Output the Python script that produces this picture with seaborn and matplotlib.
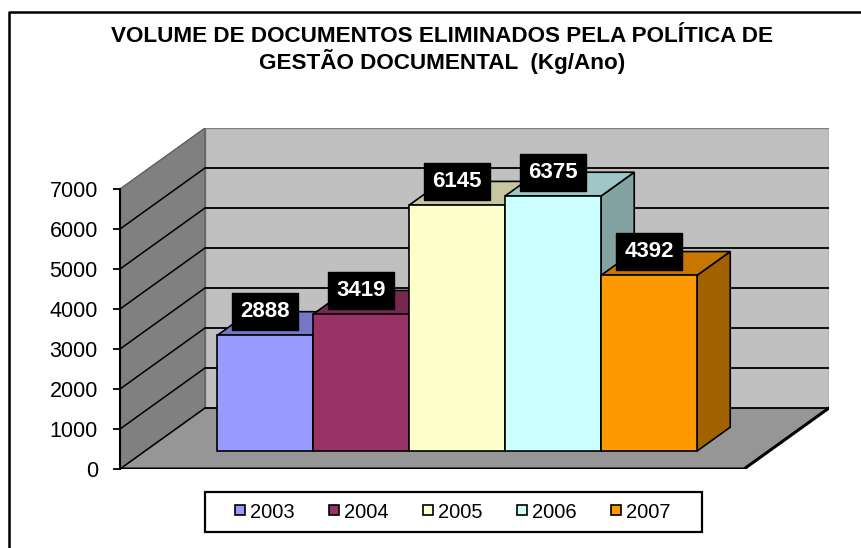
import numpy as np
import pandas as pd
import matplotlib
matplotlib.use("Agg")
import matplotlib.pyplot as plt
import matplotlib.transforms as mtransforms
from matplotlib.patches import Polygon, Rectangle
from matplotlib.lines import Line2D
import seaborn as sns

# Data
years = ["2003", "2004", "2005", "2006", "2007"]
volumes = [2888, 3419, 6145, 6375, 4392]
colors = ["#9999FF", "#993366", "#FFFFCC", "#CCFFFF", "#FF9900"]
y_ticks = [0, 1000, 2000, 3000, 4000, 5000, 6000, 7000]
title = "VOLUME DE DOCUMENTOS ELIMINADOS PELA POLÍTICA DE\nGESTÃO DOCUMENTAL  (Kg/Ano)"

sns.set_style("white")
plt.rcParams['font.family'] = ['Liberation Sans', 'DejaVu Sans']
plt.rcParams['text.color'] = 'black'
plt.rcParams['ytick.color'] = 'black'
plt.rcParams['xtick.color'] = 'black'

df = pd.DataFrame({"ano": years, "kg": volumes})

# fake 3D settings (in data units of the front plane)
DX = 85 / 96        # depth shift in x (category units) for the full floor
DY = 61 / 0.04      # depth shift in y (value units)
ZB = 0.295          # depth where the bar fronts sit
DZB = 0.39          # bar depth
X_L, X_R = -1.25, 5.25
Y_TOP = 7000


def shade(c, f):
    r, g, b = matplotlib.colors.to_rgb(c)
    return (r * f, g * f, b * f)


fig = plt.figure(figsize=(8.62, 5.48), dpi=100)
ax = fig.add_axes([120 / 862, 79 / 548, 709 / 862, 341 / 548])

sns.barplot(data=df, x="ano", y="kg", hue="ano", palette=colors, order=years,
            saturation=1, width=1.0, edgecolor="black", linewidth=1.2,
            legend=False, ax=ax)
bars = list(ax.patches)

# move bars back to their depth
shift = mtransforms.Affine2D().translate(ZB * DX, ZB * DY) + ax.transData
for i, p in enumerate(bars):
    p.set_transform(shift)
    p.set_zorder(3 + i * 0.1 + 0.05)

# walls and floor
floor = Polygon([(X_L, 0), (X_R, 0), (X_R + DX, DY), (X_L + DX, DY)],
                closed=True, facecolor="#969696", edgecolor="none", zorder=1)
back = Polygon([(X_L + DX, DY), (X_R + DX, DY), (X_R + DX, Y_TOP + DY), (X_L + DX, Y_TOP + DY)],
               closed=True, facecolor="#C0C0C0", edgecolor="#808080", lw=1, zorder=1)
side = Polygon([(X_L, 0), (X_L + DX, DY), (X_L + DX, Y_TOP + DY), (X_L, Y_TOP)],
               closed=True, facecolor="#808080", edgecolor="#606060", lw=1, zorder=1)
for poly in [floor, back, side]:
    ax.add_patch(poly)

for v in y_ticks[:-1]:
    ax.plot([X_L + DX, X_R + DX], [v + DY, v + DY], color="black", lw=1.3, zorder=1.5)
    ax.plot([X_L, X_L + DX], [v, v + DY], color="black", lw=1.1, zorder=1.5)

ax.plot([X_L, X_R, X_R + DX], [0, 0, DY], color="black", lw=2.2, zorder=2,
        solid_joinstyle="miter")

# bar tops and sides
dx, dy = DZB * DX, DZB * DY
for i, (h, c) in enumerate(zip(volumes, colors)):
    top = Polygon([(i - 0.5, h), (i + 0.5, h), (i + 0.5 + dx, h + dy), (i - 0.5 + dx, h + dy)],
                  closed=True, facecolor=shade(c, 0.78), edgecolor="black", lw=1.2,
                  transform=shift, zorder=3 + i * 0.1)
    sd = Polygon([(i + 0.5, 0), (i + 0.5, h), (i + 0.5 + dx, h + dy), (i + 0.5 + dx, dy)],
                 closed=True, facecolor=shade(c, 0.64), edgecolor="black", lw=1.2,
                 transform=shift, zorder=3 + i * 0.1)
    ax.add_patch(sd)
    ax.add_patch(top)

# value labels
for i, h in enumerate(volumes):
    ax.text(i + ZB * DX, h + (ZB + DZB) * DY, str(h), ha="center", va="center",
            color="white", fontsize=16, fontweight="bold", zorder=10,
            bbox=dict(boxstyle="square,pad=0.36", facecolor="black", edgecolor="black"))

ax.set_xlim(X_L, X_R + DX)
ax.set_ylim(0, Y_TOP + DY)
ax.set_xticks([])
ax.set_yticks(y_ticks)
ax.set_xlabel("")
ax.set_ylabel("")
ax.tick_params(axis="y", direction="out", length=5, width=1.3, pad=11,
               labelsize=15.5, left=True, colors="black")
for s in ["top", "right", "bottom"]:
    ax.spines[s].set_visible(False)
ax.spines["left"].set_bounds(0, Y_TOP)
ax.spines["left"].set_linewidth(1.5)
ax.spines["left"].set_color("black")
ax.spines["left"].set_zorder(2)
ax.patch.set_visible(False)

fig.text(0.513, 1 - 26 / 548, title, ha="center", va="top", fontsize=16.2,
         fontweight="bold", color="black", linespacing=1.1)

# legend
handles = [Line2D([], [], marker="s", linestyle="none", markersize=6.5,
                  markerfacecolor=c, markeredgecolor="black", markeredgewidth=1.2)
           for c in colors]
fig.legend(handles, years, loc="center", bbox_to_anchor=(453 / 862, 1 - 512 / 548),
           ncol=5, frameon=False, fontsize=14.5, handlelength=0.5, handletextpad=0.25,
           columnspacing=1.7)
fig.add_artist(Rectangle((205 / 862, 1 - 532 / 548), 497 / 862, 40 / 548,
                         transform=fig.transFigure, facecolor="none", edgecolor="black", lw=1.6))

# chart border
fig.add_artist(Line2D([9 / 862, 9 / 862, 1.0], [0.0, 1 - 12 / 548, 1 - 12 / 548],
                      transform=fig.transFigure, color="black", lw=1.8))

fig.savefig("out.png", dpi=100)
